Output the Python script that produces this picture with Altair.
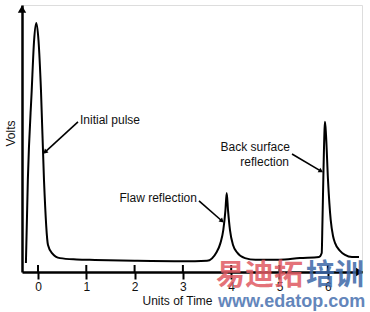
import altair as alt
import pandas as pd

# ---- data ----
curve_x = [-0.25, -0.21, -0.13, -0.08, -0.035, 0.01, 0.062, 0.124, 0.207, 0.29, 0.455, 0.8, 1.18,
           2.0, 3.0, 3.5, 3.70, 3.78, 3.836, 3.88, 3.907, 3.935, 3.975, 4.04, 4.114, 4.286, 4.5,
           5.0, 5.424, 5.818, 5.874, 5.89, 5.911, 5.932, 5.942, 5.963, 6.004, 6.06, 6.108, 6.149,
           6.253, 6.356, 6.5, 6.646]
curve_y = [0.034, 0.345, 0.68, 0.869, 0.933, 0.869, 0.68, 0.345, 0.101, 0.071, 0.052, 0.047, 0.045,
           0.042, 0.040, 0.042, 0.075, 0.11, 0.157, 0.23, 0.296, 0.23, 0.157, 0.10, 0.075, 0.052, 0.046,
           0.046, 0.052, 0.056, 0.071, 0.195, 0.382, 0.532, 0.563, 0.513, 0.345, 0.195, 0.135, 0.109,
           0.079, 0.064, 0.056, 0.056]

tick_values = [0, 1, 2, 3, 4, 5, 6]

label_text = ["Initial pulse", "Flaw reflection", "Back surface", "reflection"]
label_x = [0.87, 3.29, 5.217, 5.197]
label_y = [0.569, 0.277, 0.468, 0.412]
label_align = ["left", "right", "right", "right"]

arrow_x = [0.828, 3.333, 5.259]
arrow_y = [0.562, 0.266, 0.442]
arrow_x2 = [0.145, 3.81, 5.859]
arrow_y2 = [0.449, 0.191, 0.378]
arrow_angle = [228, 132, 121]

X_DOMAIN = [-0.331, 6.708]
Y_DOMAIN = [0, 1]
W, H = 340, 267
FONT = "Liberation Sans"

xs = alt.Scale(domain=X_DOMAIN, nice=False, zero=False)
ys = alt.Scale(domain=Y_DOMAIN, nice=False, zero=False)

curve_df = pd.DataFrame({"t": curve_x, "v": curve_y})
ticks_df = pd.DataFrame({"t": tick_values, "v0": [0] * len(tick_values),
                         "v1": [7 / H] * len(tick_values)})
labels_df = pd.DataFrame({"t": label_x, "v": label_y, "txt": label_text, "al": label_align})
arrows_df = pd.DataFrame({"t": arrow_x, "v": arrow_y, "t2": arrow_x2, "v2": arrow_y2,
                          "ang": arrow_angle})

base_axes = alt.Chart(curve_df).mark_line(stroke="black", strokeWidth=2, interpolate="monotone").encode(
    x=alt.X("t:Q", scale=xs,
            axis=alt.Axis(values=tick_values, title="Units of Time", domainColor="black",
                          domainWidth=2.5, tickColor="black", tickWidth=2, tickSize=7,
                          labelFontSize=12, labelColor="#111", labelPadding=2, grid=False,
                          titleFontSize=12, titleFontWeight="normal", titleColor="#111",
                          titlePadding=3, labelFont=FONT, titleFont=FONT, format="d",
                          titleX=155, titleAlign="center")),
    y=alt.Y("v:Q", scale=ys,
            axis=alt.Axis(title="Volts", domainColor="black", domainWidth=2.5, ticks=False,
                          labels=False, grid=False, titleFontSize=12, titleFontWeight="normal",
                          titleColor="#111", titlePadding=5, titleFont=FONT, titleY=128)),
)

tick_up = alt.Chart(ticks_df).mark_rule(color="black", strokeWidth=2).encode(
    x=alt.X("t:Q", scale=xs), y=alt.Y("v0:Q", scale=ys), y2="v1:Q")

y_arrow = alt.Chart(pd.DataFrame({"t": [X_DOMAIN[0]], "v": [0.985]})).mark_point(
    shape="triangle-up", filled=True, color="black", size=70, opacity=1).encode(
    x=alt.X("t:Q", scale=xs), y=alt.Y("v:Q", scale=ys))

x_arrow = alt.Chart(pd.DataFrame({"t": [X_DOMAIN[1] - 0.05], "v": [0]})).mark_point(
    shape="triangle-right", filled=True, color="black", size=70, opacity=1).encode(
    x=alt.X("t:Q", scale=xs), y=alt.Y("v:Q", scale=ys))

texts = []
for al in ["left", "right"]:
    texts.append(alt.Chart(labels_df[labels_df.al == al]).mark_text(
        align=al, baseline="middle", fontSize=12, font=FONT, color="#111").encode(
        x=alt.X("t:Q", scale=xs), y=alt.Y("v:Q", scale=ys), text="txt:N"))

arrow_lines = alt.Chart(arrows_df).mark_rule(color="black", strokeWidth=1.6).encode(
    x=alt.X("t:Q", scale=xs), y=alt.Y("v:Q", scale=ys), x2="t2:Q", y2="v2:Q")

arrow_heads = alt.Chart(arrows_df).mark_point(
    shape="triangle-up", filled=True, color="black", size=28, opacity=1).encode(
    x=alt.X("t2:Q", scale=xs), y=alt.Y("v2:Q", scale=ys),
    angle=alt.Angle("ang:Q", scale=None))

wm1 = alt.Chart(pd.DataFrame({"a": [0]})).mark_text(
    text="易迪拓", font="Noto Sans CJK SC", fontWeight="bold", fontSize=29, align="left",
    baseline="middle", color="#e05a62", opacity=0.85).encode(
    x=alt.value(194), y=alt.value(271))
wm2 = alt.Chart(pd.DataFrame({"a": [0]})).mark_text(
    text="培训", font="Noto Sans CJK SC", fontWeight="bold", fontSize=29, align="left",
    baseline="middle", color="#3d68a8", opacity=0.85).encode(
    x=alt.value(284), y=alt.value(271))
wm3 = alt.Chart(pd.DataFrame({"a": [0]})).mark_text(
    text="www.edatop.com", font=FONT, fontWeight="bold", fontSize=18, align="left",
    baseline="middle", color="#5b80b8", opacity=0.95).encode(
    x=alt.value(196), y=alt.value(297))

chart = alt.layer(base_axes, tick_up, y_arrow, x_arrow, arrow_lines, arrow_heads, *texts,
                  wm1, wm2, wm3).properties(
    width=W, height=H,
    autosize=alt.AutoSizeParams(type="none"),
    padding={"left": 22, "top": 5, "right": 8, "bottom": 40},
).configure_view(stroke=None).configure(font=FONT, background="white")

chart.save("out.html", embed_options={"renderer": "svg", "actions": False})
